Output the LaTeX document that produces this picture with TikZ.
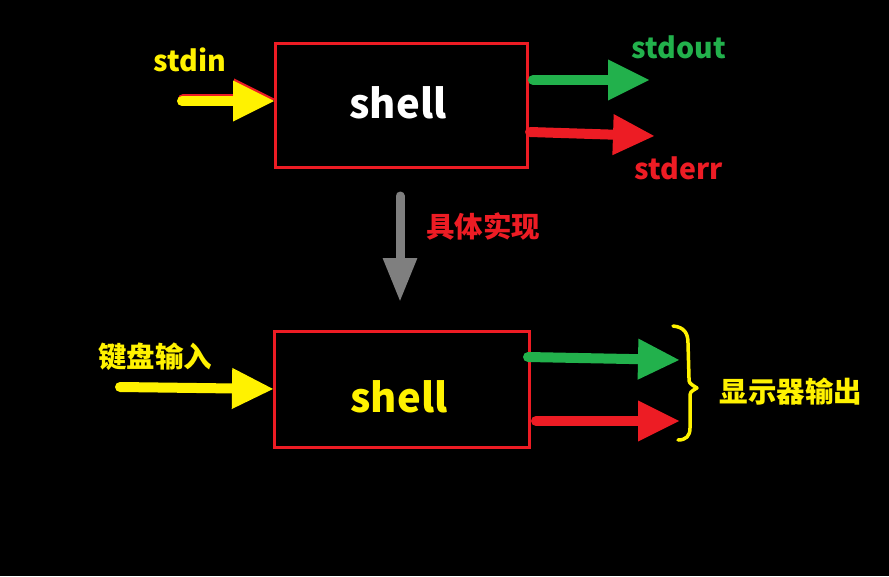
\documentclass[tikz,border=0pt]{standalone}
\usepackage{fontspec}
\setmainfont{Noto Sans CJK SC}
\usetikzlibrary{arrows.meta}
\definecolor{myred}{HTML}{ED1C24}
\definecolor{mygreen}{HTML}{22B14C}
\definecolor{myyellow}{HTML}{FFF200}
\definecolor{mygray}{HTML}{7F7F7F}
\begin{document}
\begin{tikzpicture}[x=1pt,y=-1pt,
  box/.style={draw=myred,line width=3pt,minimum width=252pt,minimum height=124pt,inner sep=0pt},
  big/.style={font=\bfseries\fontsize{40}{44}\selectfont,inner sep=0pt},
  fat/.style={line width=10pt,line cap=round,-{Triangle[length=42pt,width=38pt]}},
  lbl/.style={font=\bfseries\fontsize{28.5}{32}\selectfont,inner sep=0pt},
  cjl/.style={font=\bfseries\fontsize{28.5}{32}\selectfont,inner sep=0pt}]
\fill[black] (0,0) rectangle (889,576);
% top box
\node[box] (top) at (401,105.5) {};
\node[big,text=white] (topt) at (398,103) {shell};
\node[lbl,text=myyellow] (stdin) at (190,60) {stdin};
\node[lbl,text=mygreen] (stdout) at (679,47) {stdout};
\node[lbl,text=myred] (stderr) at (679,168) {stderr};
\coordinate (inA) at (182,101);
\coordinate (inB) at (275,101);
\draw[fat,myred] ([shift={(1,-2)}]inA) -- ([shift={(1,-2)}]inB);
\draw[fat,myyellow] (inA) -- (inB);
\coordinate (oA) at (533,80);
\coordinate (oB) at (650,80);
\draw[fat,mygreen] (oA) -- (oB);
\coordinate (eA) at (530,132);
\coordinate (eB) at (655,136);
\draw[fat,myred] (eA) -- (eB);
% gray arrow
\coordinate (gA) at (400,196);
\coordinate (gB) at (400,302);
\draw[line width=9pt,line cap=round,mygray,-{Triangle[length=44pt,width=32pt]}] (gA) -- (gB);
\node[cjl,text=myred] (impl) at (483,226) {具体实现};
% bottom box
\node[box,minimum width=255pt,minimum height=116pt] (bot) at (402,389.5) {};
\node[big,text=myyellow] (bott) at (399,397) {shell};
\node[cjl,text=myyellow] (kbd) at (155,357) {键盘输入};
\coordinate (kA) at (120,387);
\coordinate (kB) at (274,389);
\draw[fat,myyellow] (kA) -- (kB);
\coordinate (g2A) at (528,357);
\coordinate (g2B) at (680,360);
\draw[fat,mygreen] (g2A) -- (g2B);
\coordinate (r2A) at (536,421);
\coordinate (r2B) at (680,421);
\draw[fat,myred] (r2A) -- (r2B);
% brace
\draw[myyellow,line width=3.5pt,line cap=round,line join=round]
  (673,326) .. controls (684,327) and (688,333) .. (688,343)
  -- (689,378) .. controls (689,383) .. (697,388)
  .. controls (690,392) .. (690,398)
  -- (690,428) .. controls (690,436) and (686,440) .. (678,440);
\node[cjl,text=myyellow] (disp) at (791,392) {显示器输出};
\end{tikzpicture}
\end{document}
